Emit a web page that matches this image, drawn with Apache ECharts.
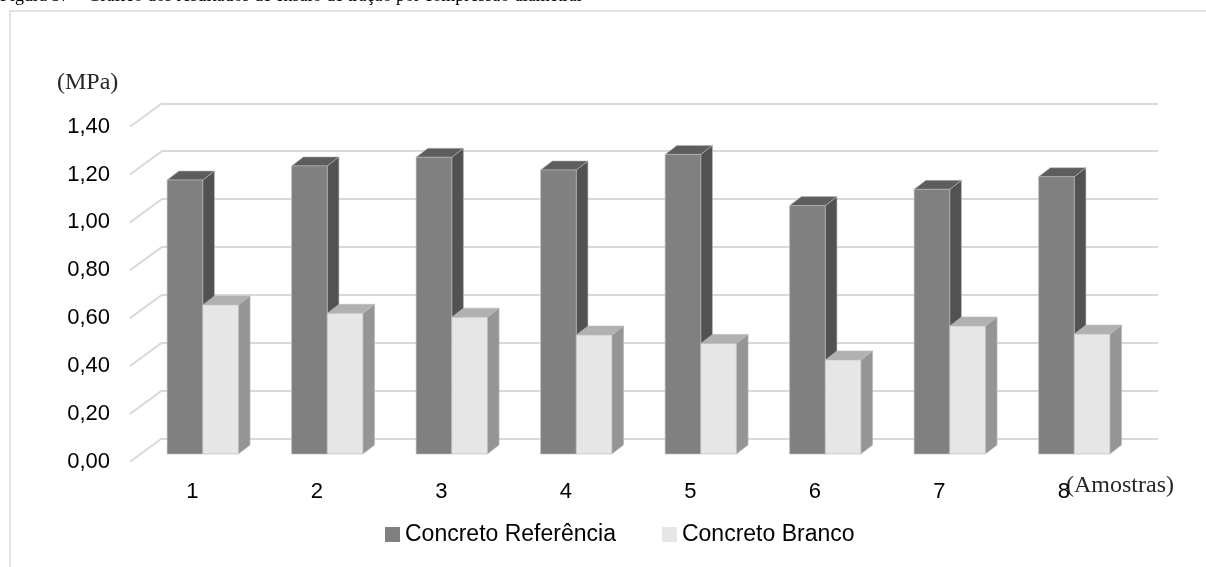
<!DOCTYPE html>
<html>
<head>
<meta charset="utf-8">
<script src="https://cdn.jsdelivr.net/npm/echarts@6/dist/echarts.min.js"></script>
<style>
  html, body { margin: 0; padding: 0; background: #ffffff; }
  #chart { width: 1206px; height: 567px; }
</style>
</head>
<body>
<div id="chart"></div>
<script>
// Resultados do ensaio de tração por compressão diametral (MPa)
const categories = ['1', '2', '3', '4', '5', '6', '7', '8'];
const referencia = [1.145, 1.204, 1.24, 1.187, 1.252, 1.038, 1.106, 1.159];
const branco = [0.623, 0.588, 0.572, 0.497, 0.462, 0.393, 0.535, 0.501];
const yTicks = [0, 0.2, 0.4, 0.6, 0.8, 1.0, 1.2, 1.4];
const seriesNames = ['Concreto Referência', 'Concreto Branco'];

// Oblique 3D projection offsets (pixels)
const FLOOR = [32, 23.4];          // back wall -> front edge of the floor (left, down)
const BAR_FRONT = [-21.5, 15.7];   // back wall -> front plane of the columns
const BAR_DEPTH = [11.7, -9];      // front face -> back face of a column

const faces = [
  { front: '#808080', side: '#525252', top: '#5d5d5d' },
  { front: '#e6e6e6', side: '#959595', top: '#b1b1b1' }
];

function columnRenderer(si) {
  return function (params, api) {
    const cat = api.value(0);
    const val = api.value(1);
    const base = api.coord([cat, 0]);
    const top = api.coord([cat, val]);
    const band = api.size([1, 0])[0];
    const w = band * 0.286;
    const x0 = base[0] + BAR_FRONT[0] + (si === 0 ? -w : 0);
    const by = base[1] + BAR_FRONT[1];
    const ty = top[1] + BAR_FRONT[1];
    const dx = BAR_DEPTH[0], dy = BAR_DEPTH[1];
    const c = faces[si];
    const edge = { stroke: 'rgba(185,185,185,0.75)', lineWidth: 0.8 };
    return {
      type: 'group',
      children: [
        { type: 'polygon', shape: { points: [[x0 + w, ty], [x0 + w + dx, ty + dy], [x0 + w + dx, by + dy], [x0 + w, by]] },
          style: Object.assign({ fill: c.side }, edge) },
        { type: 'polygon', shape: { points: [[x0, ty], [x0 + dx, ty + dy], [x0 + w + dx, ty + dy], [x0 + w, ty]] },
          style: Object.assign({ fill: c.top }, edge) },
        { type: 'rect', shape: { x: x0, y: ty, width: w, height: by - ty },
          style: Object.assign({ fill: c.front }, edge) }
      ]
    };
  };
}

// Side-wall gridlines running from the back wall to the front edge
function sideGridRenderer(params, api) {
  const y = api.coord([0, api.value(1)])[1];
  const x = params.coordSys.x;
  return {
    type: 'line',
    shape: { x1: x, y1: y, x2: x - FLOOR[0], y2: y + FLOOR[1] },
    style: { stroke: '#d9d9d9', lineWidth: 2 }
  };
}

const fmt = v => v.toFixed(2).replace('.', ',');
const labelFont = { fontFamily: '"Liberation Sans", Arial, sans-serif', fontSize: 22, color: '#000000' };
const serif = '"Liberation Serif", "Times New Roman", serif';

const chart = echarts.init(document.getElementById('chart'), null, { renderer: 'canvas' });
chart.setOption({
  animation: false,
  backgroundColor: '#ffffff',
  grid: [
    { left: 162, right: 48, top: 103.3, bottom: 128.7 },   // back wall
    { left: 130, right: 80, top: 126.7, bottom: 105.3 }    // front edge (labels)
  ],
  xAxis: [
    { type: 'category', gridIndex: 0, data: categories,
      axisLine: { show: false }, axisTick: { show: false }, axisLabel: { show: false }, splitLine: { show: false } },
    { type: 'category', gridIndex: 1, data: categories,
      axisLine: { show: false }, axisTick: { show: false }, splitLine: { show: false },
      axisLabel: Object.assign({ margin: 19 }, labelFont) }
  ],
  yAxis: [
    { type: 'value', gridIndex: 0, min: 0, max: 1.4, interval: 0.2,
      axisLine: { show: false }, axisTick: { show: false }, axisLabel: { show: false },
      splitLine: { show: true, lineStyle: { color: '#d9d9d9', width: 2 } } },
    { type: 'value', gridIndex: 1, min: 0, max: 1.4, interval: 0.2,
      axisLine: { show: false }, axisTick: { show: false }, splitLine: { show: false },
      axisLabel: Object.assign({ margin: 20, formatter: fmt }, labelFont) }
  ],
  legend: {
    data: seriesNames,
    left: 380, top: 518,
    icon: 'rect', itemWidth: 15, itemHeight: 15, itemGap: 46,
    textStyle: { fontFamily: '"Liberation Sans", Arial, sans-serif', fontSize: 23, color: '#000000' }
  },
  series: [
    { type: 'custom', name: 'grade lateral', xAxisIndex: 0, yAxisIndex: 0, silent: true,
      data: yTicks.map(v => [0, v]), encode: { x: 0, y: 1 }, renderItem: sideGridRenderer, z: 1 },
    { type: 'custom', name: seriesNames[0], xAxisIndex: 0, yAxisIndex: 0,
      itemStyle: { color: faces[0].front },
      data: referencia.map((v, i) => [i, v]), encode: { x: 0, y: 1 }, renderItem: columnRenderer(0), z: 2 },
    { type: 'custom', name: seriesNames[1], xAxisIndex: 0, yAxisIndex: 0,
      itemStyle: { color: faces[1].front },
      data: branco.map((v, i) => [i, v]), encode: { x: 0, y: 1 }, renderItem: columnRenderer(1), z: 3 }
  ],
  graphic: [
    { type: 'rect', left: 7.5, top: 8.5, shape: { x: 0, y: 0, width: 1300, height: 700 }, silent: true, z: -10,
      style: { fill: 'none', stroke: '#d9d9d9', lineWidth: 1.5 } },
    { type: 'text', x: 0, y: 5.5, silent: true,
      style: { text: 'Figura 37 – Gráfico dos resultados de ensaio de tração por compressão diametral',
               font: '18px ' + serif, fill: '#000000', verticalAlign: 'bottom' } },
    { type: 'text', x: 57, y: 83, silent: true,
      style: { text: '(MPa)', font: '24px ' + serif, fill: '#262626', verticalAlign: 'middle' } },
    { type: 'text', x: 1066, y: 486, silent: true,
      style: { text: '(Amostras)', font: '24px ' + serif, fill: '#262626', verticalAlign: 'middle' } }
  ]
});
</script>
</body>
</html>
